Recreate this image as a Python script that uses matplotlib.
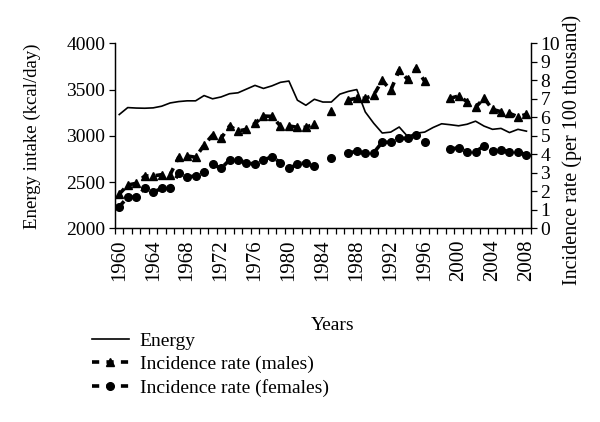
import numpy as np
import matplotlib
matplotlib.use("Agg")
import matplotlib.pyplot as plt
from matplotlib.ticker import FixedLocator

plt.rcParams['font.family'] = ['Liberation Serif', 'DejaVu Serif']

years = list(range(1960, 2009))
energy = [3230, 3305, 3300, 3298, 3302, 3320, 3355, 3370, 3378, 3378,
          3435, 3400, 3420, 3455, 3465, 3505, 3545, 3512, 3540, 3578,
          3592, 3385, 3330, 3395, 3365, 3365, 3450, 3480, 3500, 3258,
          3135, 3030, 3040, 3095, 2992, 3028, 3040, 3090, 3130, 3120,
          3108, 3125, 3158, 3105, 3070, 3080, 3035, 3070, 3050]
males = [1.85, 2.34, 2.43, 2.83, 2.83, 2.90, 2.90, 3.84, 3.91, 3.84,
         4.50, 5.04, 4.86, 5.53, 5.26, 5.35, 5.67, 6.07, 6.05, 5.53,
         5.53, 5.46, 5.46, 5.64, np.nan, 6.36, np.nan, 6.94, 7.03, 7.03,
         7.20, 8.00, 7.46, 8.55, 8.05, 8.65, 7.95, np.nan, np.nan, 7.03,
         7.15, 6.85, 6.54, 7.03, 6.43, 6.30, 6.21, 6.03, 6.16]
females = [1.17, 1.68, 1.68, 2.16, 1.95, 2.16, 2.16, 2.97, 2.76, 2.84,
           3.06, 3.46, 3.24, 3.69, 3.69, 3.55, 3.46, 3.69, 3.87, 3.55,
           3.24, 3.46, 3.55, 3.35, np.nan, 3.78, np.nan, 4.05, 4.18, 4.05,
           4.09, 4.65, 4.65, 4.86, 4.86, 5.04, 4.65, np.nan, np.nan, 4.27,
           4.36, 4.14, 4.14, 4.45, 4.18, 4.23, 4.14, 4.14, 3.96]
xtick_years = list(range(1960, 2009, 4))

W, H = 600, 422
fig = plt.figure(figsize=(6, 4.22), dpi=100)
ax = fig.add_axes([115/W, 1-228.3/H, (530.7-115)/W, (228.3-43.3)/H])
ax2 = ax.twinx()

l1, = ax.plot(years, energy, color='black', lw=1.2, label='Energy')
l2, = ax2.plot(years, males, color='black', lw=2.6, linestyle=(0, (2.0, 2.0)),
               marker='^', markersize=6, label='Incidence rate (males)')
l3, = ax2.plot(years, females, color='black', lw=2.6, linestyle=(0, (2.0, 2.0)),
               marker='o', markersize=5.5, label='Incidence rate (females)')

ax.set_xlim(1959.5, 2008.5)
ax.set_ylim(2000, 4000)
ax.set_yticks([2000, 2500, 3000, 3500, 4000])
ax2.set_ylim(0, 10)
ax2.set_yticks(range(0, 11))

ax.xaxis.set_major_locator(FixedLocator(xtick_years))
ax.xaxis.set_minor_locator(FixedLocator(np.arange(1959.5, 2009.0, 1.0)))
ax.set_xticklabels([str(y) for y in xtick_years], rotation=90)
ax.tick_params(axis='x', which='major', length=0, pad=8, labelsize=15)
ax.tick_params(axis='x', which='minor', length=4, width=0.9, direction='out')
ax.tick_params(axis='y', length=4, width=0.9, labelsize=14, pad=3)
ax2.tick_params(axis='y', length=4, width=0.9, labelsize=14, pad=3)

for a in (ax, ax2):
    a.spines['top'].set_visible(False)
    for s in ('left', 'right', 'bottom'):
        a.spines[s].set_linewidth(0.9)

fig.text(32/W, 1-136/H, 'Energy intake (kcal/day)', rotation=90,
         ha='center', va='center', fontsize=13.5)
fig.text(572/W, 1-150/H, 'Incidence rate (per 100 thousand)', rotation=90,
         ha='center', va='center', fontsize=14.5)
fig.text(333/W, 1-325/H, 'Years', ha='center', va='center', fontsize=14)

fig.legend(handles=[l1, l2, l3], loc='upper left',
           bbox_to_anchor=(92/W, 1-332/H), frameon=False, fontsize=14,
           handlelength=1.9, handletextpad=0.55, labelspacing=0.3,
           borderpad=0, borderaxespad=0)

fig.savefig('out.png', dpi=100)
